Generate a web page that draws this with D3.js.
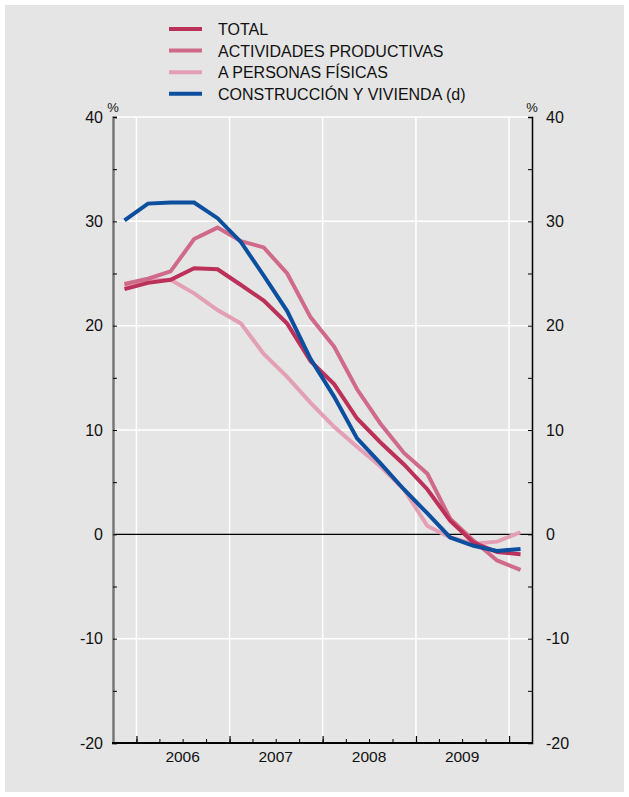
<!DOCTYPE html>
<html>
<head>
<meta charset="utf-8">
<script src="https://cdn.jsdelivr.net/npm/d3@7"></script>
<style>
	html, body { margin: 0; padding: 0; background: #ffffff; }
	svg text { font-family: 'Liberation Sans', Arial, sans-serif; fill: #111; }
</style>
</head>
<body>
<div id="chart"></div>
<script>
// quarterly observations, Q4 2005 .. Q1 2010 (plotted mid-quarter)
const quarters = [
	'2005-11-15', '2006-02-15', '2006-05-15', '2006-08-15', '2006-11-15',
	'2007-02-15', '2007-05-15', '2007-08-15', '2007-11-15',
	'2008-02-15', '2008-05-15', '2008-08-15', '2008-11-15',
	'2009-02-15', '2009-05-15', '2009-08-15', '2009-11-15', '2010-02-15'
];
const total = [23.5, 24.1, 24.4, 25.5, 25.4, 23.9, 22.4, 20.2, 16.6, 14.4, 11.1, 8.8, 6.7, 4.3, 1.3, -0.8, -1.7, -1.9];
const actividades = [24.0, 24.5, 25.2, 28.3, 29.4, 28.1, 27.5, 25.0, 20.8, 18.0, 13.9, 10.6, 7.8, 5.8, 1.5, -0.6, -2.5, -3.4];
const personas = [23.8, 24.3, 24.4, 23.1, 21.5, 20.2, 17.3, 15.1, 12.6, 10.3, 8.4, 6.5, 4.3, 0.8, -0.3, -0.9, -0.7, 0.2];
const construccion = [30.1, 31.7, 31.8, 31.8, 30.3, 28.0, 24.8, 21.4, 16.8, 13.2, 9.2, 6.8, 4.3, 2.0, -0.3, -1.1, -1.6, -1.4];

const yearLabels = ['2006', '2007', '2008', '2009'];
const yTicks = [40, 30, 20, 10, 0, -10, -20];

const series = [
	{ name: 'TOTAL', values: total, color: '#bb3159' },
	{ name: 'ACTIVIDADES PRODUCTIVAS', values: actividades, color: '#d06a8a' },
	{ name: 'A PERSONAS FÍSICAS', values: personas, color: '#e39fb4' },
	{ name: 'CONSTRUCCIÓN Y VIVIENDA (d)', values: construccion, color: '#0b4f9e' }
];

const width = 629;
const height = 797;
const plotLeft = 113, plotRight = 532, plotTop = 117, plotBottom = 743;

const parse = d3.timeParse('%Y-%m-%d');
const dates = quarters.map(parse);

const svg = d3.select('#chart').append('svg').attr('width', width).attr('height', height);

svg.append('rect')
	.attr('x', 5).attr('y', 5)
	.attr('width', width - 10).attr('height', height - 10)
	.attr('fill', '#e5e5e5');

const x = d3.scaleTime()
	.domain([new Date(2005, 9, 1), new Date(2010, 3, 1)])
	.range([plotLeft, plotRight]);
const y = d3.scaleLinear().domain([-20, 40]).range([plotBottom, plotTop]);

// gridlines
svg.append('g')
	.selectAll('line')
	.data([40, 30, 20, 10, -10])
	.enter()
	.append('line')
	.attr('x1', plotLeft).attr('x2', plotRight)
	.attr('y1', (d) => y(d)).attr('y2', (d) => y(d))
	.attr('stroke', '#ffffff').attr('stroke-width', 1.5);

const yearStarts = d3.timeYear.range(new Date(2006, 0, 1), new Date(2010, 0, 2));
svg.append('g')
	.selectAll('line')
	.data(yearStarts)
	.enter()
	.append('line')
	.attr('x1', (d) => x(d)).attr('x2', (d) => x(d))
	.attr('y1', plotTop).attr('y2', plotBottom)
	.attr('stroke', '#ffffff').attr('stroke-width', 1.5);

// zero line
svg.append('line')
	.attr('x1', plotLeft).attr('x2', plotRight)
	.attr('y1', y(0)).attr('y2', y(0))
	.attr('stroke', '#000').attr('stroke-width', 1.2);

// series lines (drawn back to front)
const line = d3.line()
	.x((d, i) => x(dates[i]))
	.y((d) => y(d));

[2, 1, 0, 3].forEach((k) => {
	svg.append('path')
		.datum(series[k].values)
		.attr('d', line)
		.attr('fill', 'none')
		.attr('stroke', series[k].color)
		.attr('stroke-width', 4)
		.attr('stroke-linejoin', 'miter');
});

// left axis
const leftAxis = d3.axisRight(y)
	.tickValues(d3.range(-20, 41, 5))
	.tickSize(4)
	.tickFormat('');
const gl = svg.append('g').attr('transform', `translate(${plotLeft},0)`).call(leftAxis);
gl.select('.domain').attr('stroke', '#777').attr('stroke-width', 2.5);
gl.selectAll('.tick line').attr('stroke', '#000');

svg.append('g')
	.selectAll('text')
	.data(yTicks)
	.enter()
	.append('text')
	.attr('x', plotLeft - 10)
	.attr('y', (d) => y(d) + 5.5)
	.attr('text-anchor', 'end')
	.style('font-size', '16px')
	.text((d) => d);

// right axis
const rightAxis = d3.axisLeft(y)
	.tickValues(d3.range(-20, 41, 5))
	.tickSize(4)
	.tickFormat('');
const gr = svg.append('g').attr('transform', `translate(${plotRight},0)`).call(rightAxis);
gr.select('.domain').attr('stroke', '#000').attr('stroke-width', 1.5);
gr.selectAll('.tick line').attr('stroke', '#000');

svg.append('g')
	.selectAll('text')
	.data(yTicks)
	.enter()
	.append('text')
	.attr('x', plotRight + 14)
	.attr('y', (d) => y(d) + 5.5)
	.attr('text-anchor', 'start')
	.style('font-size', '16px')
	.text((d) => d);

// % units
[plotLeft, plotRight].forEach((px) => {
	svg.append('text')
		.attr('x', px)
		.attr('y', plotTop - 5)
		.attr('text-anchor', 'middle')
		.style('font-size', '13px')
		.text('%');
});

// bottom axis
const quarterTicks = d3.timeMonth.every(3).range(new Date(2006, 0, 1), new Date(2010, 0, 2));
const xMinor = d3.axisTop(x).tickValues(quarterTicks).tickSize(4).tickFormat('');
const gx = svg.append('g').attr('transform', `translate(0,${plotBottom})`).call(xMinor);
gx.select('.domain').remove();
gx.selectAll('.tick line').attr('stroke', '#000');

const xMajor = d3.axisTop(x).tickValues(yearStarts).tickSize(7).tickFormat('');
const gx2 = svg.append('g').attr('transform', `translate(0,${plotBottom})`).call(xMajor);
gx2.select('.domain').remove();
gx2.selectAll('.tick line').attr('stroke', '#000').attr('stroke-width', 1.2);

svg.append('line')
	.attr('x1', plotLeft - 1).attr('x2', plotRight)
	.attr('y1', plotBottom).attr('y2', plotBottom)
	.attr('stroke', '#000').attr('stroke-width', 2);

svg.append('g')
	.selectAll('text')
	.data(yearLabels)
	.enter()
	.append('text')
	.attr('x', (d) => x(new Date(+d, 6, 1)))
	.attr('y', plotBottom + 19)
	.attr('text-anchor', 'middle')
	.style('font-size', '15.5px')
	.text((d) => d);

// legend
const legend = svg.append('g')
	.selectAll('g')
	.data(series)
	.enter()
	.append('g')
	.attr('transform', (d, i) => `translate(169,${29 + i * 21.6})`);

legend.append('line')
	.attr('x1', 0).attr('x2', 33)
	.attr('y1', 0).attr('y2', 0)
	.attr('stroke', (d) => d.color)
	.attr('stroke-width', 4);

legend.append('text')
	.attr('x', 49)
	.attr('y', 6)
	.style('font-size', '16px')
	.text((d) => d.name);
</script>
</body>
</html>
